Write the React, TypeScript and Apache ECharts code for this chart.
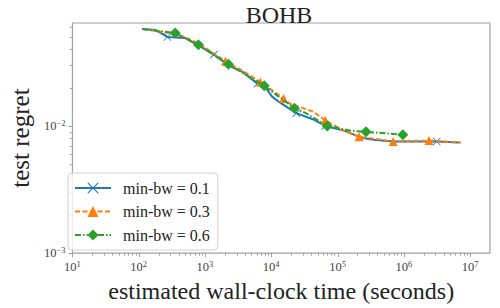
import React, { useEffect, useRef } from "react";
import * as echarts from "echarts";

const X_MIN = 10;
const X_MAX = 2e7;
const Y_MIN = 1e-3;
const Y_MAX = 0.0645;

const names = ["min-bw = 0.1", "min-bw = 0.3", "min-bw = 0.6"];
const colors = ["#1f77b4", "#ff7f0e", "#2ca02c"];

const blueT = [113, 181, 271, 497, 822, 1365, 2259, 3743, 6194, 8110, 10280, 13450, 23840, 42260, 65500, 128200, 227300, 352400, 690300, 3.14e6, 6.81e6];
const blueR = [0.0578, 0.0567, 0.0501, 0.0492, 0.0427, 0.0364, 0.03, 0.0265, 0.0215, 0.0203, 0.017, 0.0153, 0.0126, 0.0113, 0.01, 0.00915, 0.00809, 0.0078, 0.00754, 0.00754, 0.0074];
const blueMarks = [2, 5, 8, 12, 14, 19];

const orangeT = [113, 300, 497, 822, 1365, 2042, 3743, 6853, 10990, 15390, 18830, 42260, 65500, 115900, 212400, 690300, 2.399e6, 7.29e6];
const orangeR = [0.0578, 0.0538, 0.0501, 0.0442, 0.0371, 0.0322, 0.027, 0.0222, 0.0186, 0.0164, 0.015, 0.013, 0.0111, 0.00932, 0.00823, 0.00754, 0.00767, 0.0074];
const orangeMarks = [5, 7, 9, 12, 14, 15, 16];

const greenT = [113, 355, 796, 2259, 7848, 22290, 33370, 70020, 162500, 269200, 966000];
const greenR = [0.0578, 0.0538, 0.0435, 0.0305, 0.0207, 0.0138, 0.0126, 0.01, 0.00915, 0.009, 0.00853];
const greenMarks = [1, 2, 3, 4, 5, 7, 9, 10];

const xDecades = [1, 2, 3, 4, 5, 6, 7];
const yDecades = [-3, -2];
const minorMults = [2, 3, 4, 5, 6, 7, 8, 9];

const X_SYMBOL = "path://M0.7,0L5,4.3L9.3,0L10,0.7L5.7,5L10,9.3L9.3,10L5,5.7L0.7,10L0,9.3L4.3,5L0,0.7Z";

function buildData(t: number[], r: number[], marks: number[]) {
  return t.map((v, i) =>
    marks.includes(i) ? { value: [v, r[i]] } : { value: [v, r[i]], symbol: "none" }
  );
}

export default function App() {
  const ref = useRef<HTMLDivElement>(null);
  useEffect(() => {
    if (!ref.current) return;
    document.body.style.margin = "0";
    const chart = echarts.init(ref.current, null, { renderer: "svg" });
    const serif = "Liberation Serif";
    const tickColor = "#a0a0a0";

    const xTicks: number[][] = [];
    xDecades.forEach((d) => {
      xTicks.push([Math.pow(10, d), Y_MIN, 4]);
    });
    xDecades.forEach((d) => {
      minorMults.forEach((m) => {
        const v = m * Math.pow(10, d);
        if (v < X_MAX) xTicks.push([v, Y_MIN, 2.5]);
      });
    });
    const yTicks: number[][] = [];
    yDecades.forEach((d) => yTicks.push([X_MIN, Math.pow(10, d), 4]));
    yDecades.forEach((d) => {
      minorMults.forEach((m) => {
        const v = m * Math.pow(10, d);
        if (v < Y_MAX) yTicks.push([X_MIN, v, 2.5]);
      });
    });

    const fmt = (v: number) => {
      const l = Math.log10(v);
      const e = Math.round(l);
      if (Math.abs(l - e) > 1e-6) return "";
      const es = e < 0 ? "\u2212" + Math.abs(e) : String(e);
      return "{b|10}{s|" + es + "}";
    };
    const rich = {
      b: { fontFamily: serif, fontSize: 12.5, color: "#444", lineHeight: 15 },
      s: { fontFamily: serif, fontSize: 8.5, color: "#444", verticalAlign: "top", lineHeight: 15, padding: [0, 0, 6, 0] },
    };

    const lineSeries = [
      { t: blueT, r: blueR, m: blueMarks, sym: X_SYMBOL, size: 8, type: "solid" as any },
      { t: orangeT, r: orangeR, m: orangeMarks, sym: "triangle", size: 9, type: [5, 2.5] as any },
      { t: greenT, r: greenR, m: greenMarks, sym: "diamond", size: 11, type: [6, 2, 1.5, 2] as any },
    ].map((s, i) => ({
      name: names[i],
      type: "line",
      data: buildData(s.t, s.r, s.m),
      symbol: s.sym,
      symbolSize: s.size,
      showAllSymbol: true,
      lineStyle: { color: colors[i], width: 2, type: s.type },
      itemStyle: { color: colors[i], borderWidth: 0 },
      z: 3 + i,
    }));

    chart.setOption({
      animation: false,
      title: {
        text: "BOHB",
        left: 274,
        top: -2,
        textAlign: "center",
        textStyle: { fontFamily: serif, fontSize: 24, fontWeight: "normal", color: "#222" },
      },
      grid: {
        left: 59,
        right: 10,
        top: 23,
        bottom: 50,
        show: true,
        borderColor: tickColor,
        borderWidth: 1.2,
        backgroundColor: "transparent",
      },
      legend: {
        orient: "vertical",
        left: 68,
        top: 173,
        data: names,
        itemWidth: 36,
        itemHeight: 14,
        itemGap: 7.5,
        padding: [7, 8, 7, 6],
        borderColor: "#d0d0d0",
        borderWidth: 1,
        borderRadius: 4,
        backgroundColor: "rgba(255,255,255,0.8)",
        textStyle: { fontFamily: serif, fontSize: 16, color: "#222", padding: [0, 0, 0, 7] },
      },
      xAxis: {
        type: "log",
        logBase: 10,
        min: X_MIN,
        max: X_MAX,
        name: "estimated wall-clock time (seconds)",
        nameLocation: "middle",
        nameGap: 21,
        nameTextStyle: { fontFamily: serif, fontSize: 24, color: "#222" },
        axisLine: { show: false },
        axisTick: { show: false },
        splitLine: { show: false },
        minorTick: { show: false },
        axisLabel: { formatter: fmt, rich, margin: 6, showMaxLabel: false },
      },
      yAxis: {
        type: "log",
        logBase: 10,
        min: Y_MIN,
        max: Y_MAX,
        name: "test regret",
        nameLocation: "middle",
        nameGap: 36,
        nameTextStyle: { fontFamily: serif, fontSize: 25, color: "#222" },
        axisLine: { show: false },
        axisTick: { show: false },
        splitLine: { show: false },
        axisLabel: { formatter: fmt, rich, margin: 7, showMaxLabel: false },
      },
      series: [
        {
          type: "custom",
          name: "xticks",
          silent: true,
          clip: false,
          data: xTicks,
          renderItem: (params: any, api: any) => {
            const p = api.coord([api.value(0), api.value(1)]);
            const len = api.value(2);
            const x = Math.round(p[0]) + 0.5;
            return {
              type: "line",
              shape: { x1: x, y1: p[1], x2: x, y2: p[1] + len },
              style: { stroke: tickColor, lineWidth: 1 },
            };
          },
          z: 1,
        },
        {
          type: "custom",
          name: "yticks",
          silent: true,
          clip: false,
          data: yTicks,
          renderItem: (params: any, api: any) => {
            const p = api.coord([api.value(0), api.value(1)]);
            const len = api.value(2);
            const y = Math.round(p[1]) + 0.5;
            return {
              type: "line",
              shape: { x1: p[0] - len, y1: y, x2: p[0], y2: y },
              style: { stroke: tickColor, lineWidth: 1 },
            };
          },
          z: 1,
        },
        ...lineSeries,
      ],
    });
    return () => chart.dispose();
  }, []);
  return <div ref={ref} style={{ width: 500, height: 308 }} />;
}
